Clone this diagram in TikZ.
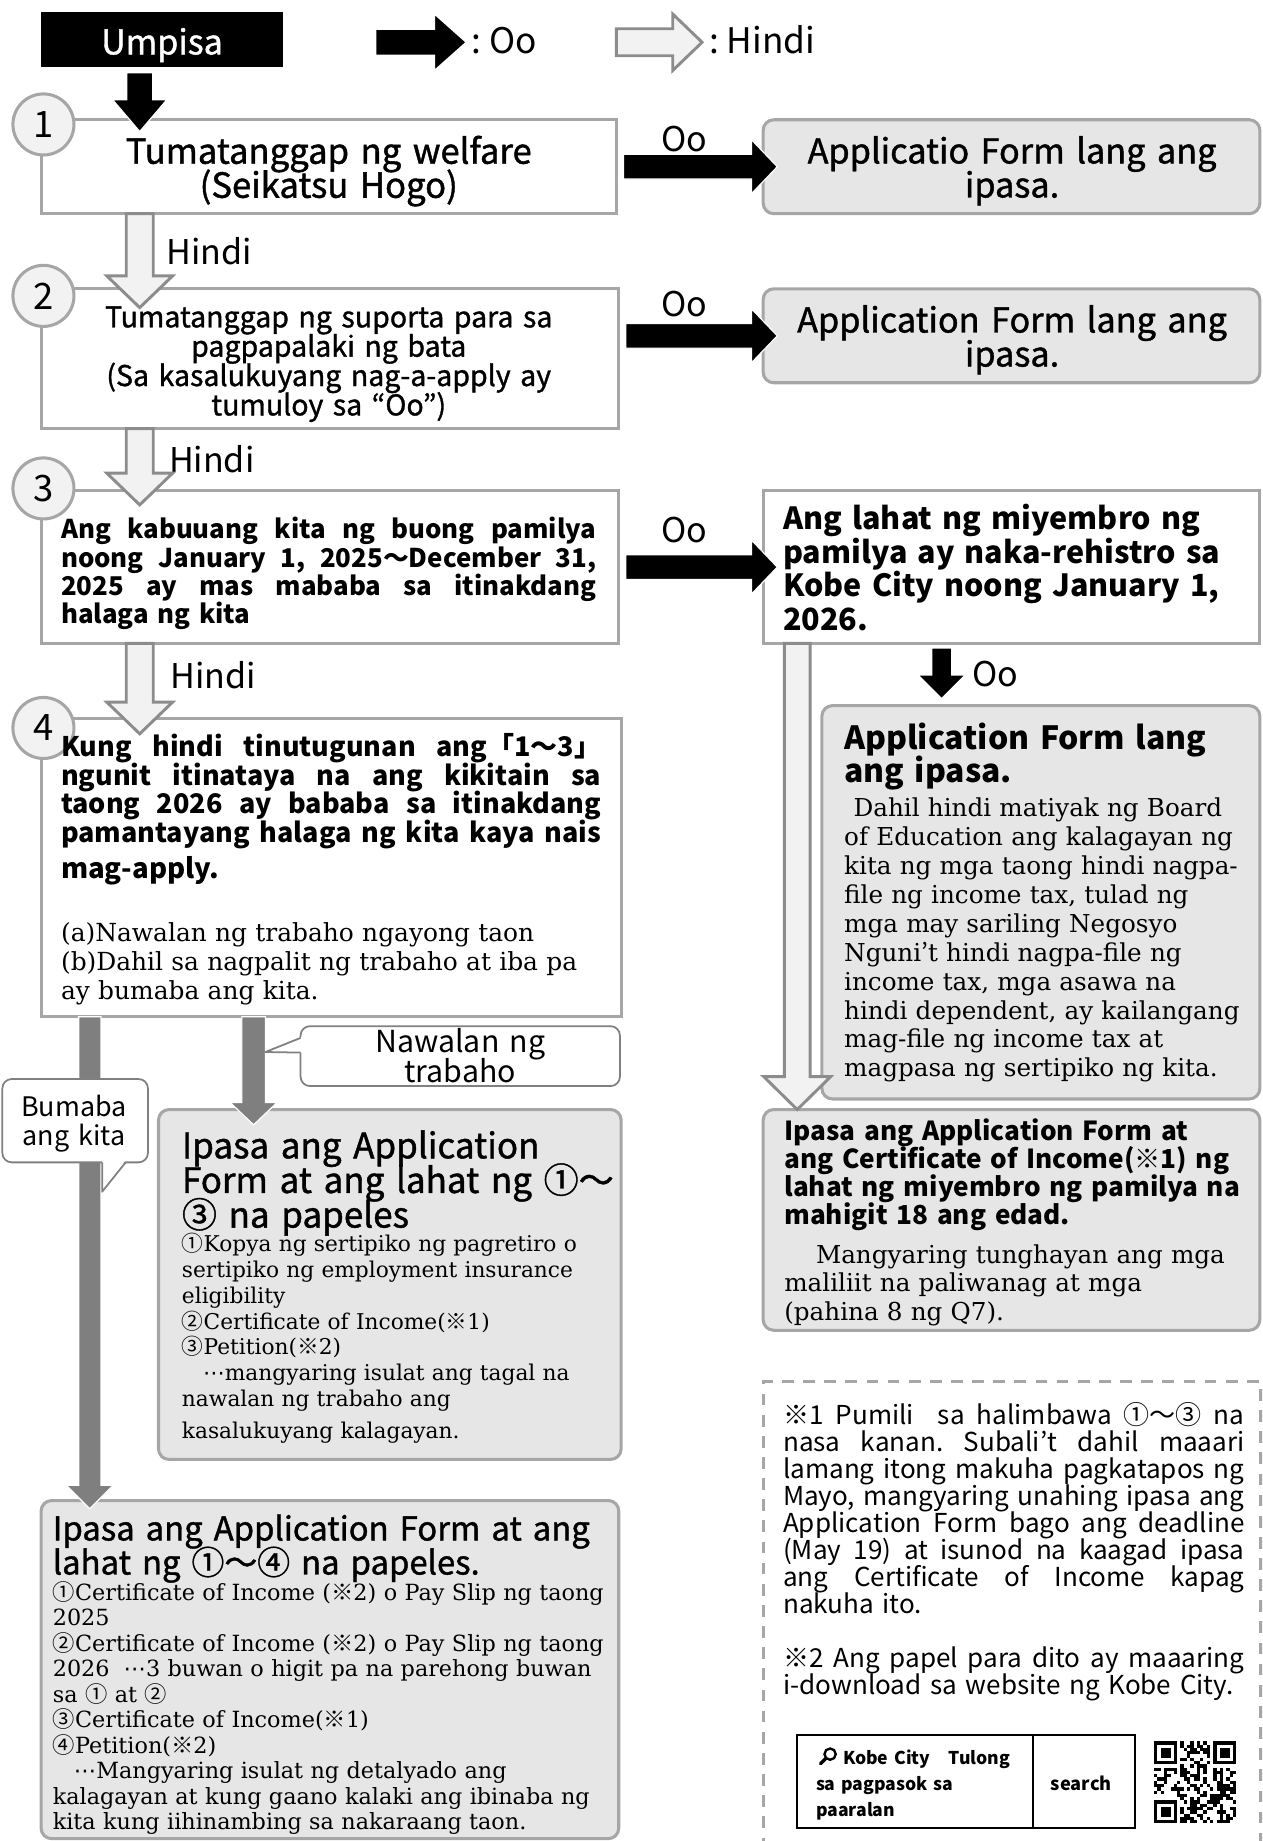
\documentclass[tikz,border=0pt]{standalone}
\usepackage{fontspec}
\setmainfont{DejaVu Serif}
\newfontfamily\nsans{Noto Sans CJK JP}
\newfontfamily\nmed{Noto Sans CJK JP}[FakeBold=1.2]
\newfontfamily\ncjk{Noto Sans CJK JP}
\newfontfamily\dvs{DejaVu Sans}
\usetikzlibrary{calc}
\definecolor{bord}{HTML}{A6A6A6}
\definecolor{boxgray}{HTML}{E6E6E6}
\definecolor{arrfill}{HTML}{F2F2F2}
\definecolor{arredge}{HTML}{8C8C8C}
\definecolor{dark}{HTML}{7F7F7F}
\definecolor{callb}{HTML}{808080}
\newcommand\fsz[2]{\fontsize{#1}{#2}\selectfont\lineskiplimit=-100pt\lineskip=0pt\parindent=0pt\frenchspacing\relax}
\newcommand\Zs{\rule{0pt}{.9\fontdimen6\font}}
\newcommand\J[2]{\makebox[#1][s]{\spaceskip=\fontdimen2\font plus 1fil\relax #2}}
\newcommand\cj[1]{{\ncjk #1}}
\newcommand\mdots{{\dvs ⋯}}
\newcommand{\vblk}[6]{\path[#1] let \p1=#2, \p2=#3 in (\x1-#4,\y1) -- (\x1-#4,\y2+#6) -- (\x1-#5,\y2+#6) -- (\x1,\y2) -- (\x1+#5,\y2+#6) -- (\x1+#4,\y2+#6) -- (\x1+#4,\y1) -- cycle;}
\newcommand{\hblk}[6]{\path[#1] let \p1=#2, \p2=#3 in (\x1,\y1+#4) -- (\x2-#6,\y1+#4) -- (\x2-#6,\y1+#5) -- (\x2,\y1) -- (\x2-#6,\y1-#5) -- (\x2-#6,\y1-#4) -- (\x1,\y1-#4) -- cycle;}
\newcommand\finder[2]{\fill (#1,#2) rectangle ++(19.6,19.6); \fill[white] (#1+2.8,#2+2.8) rectangle ++(14,14); \fill (#1+5.6,#2+5.6) rectangle ++(8.4,8.4);}
\begin{document}
\begin{tikzpicture}[x=1pt,y=-1pt,
  sq/.style={draw=bord, line width=2.6pt, fill=white, inner sep=0pt, outer sep=0pt, anchor=north west},
  rb/.style={draw=bord, line width=2.6pt, fill=boxgray, rounded corners=9pt, inner sep=0pt, outer sep=0pt, anchor=north west},
  txt/.style={inner sep=0pt, outer sep=0pt, anchor=north west, align=left},
  ctxt/.style={inner sep=0pt, outer sep=0pt, anchor=north, align=center},
  numc/.style={circle, draw=bord, fill=arrfill, line width=2.6pt, minimum size=52pt, inner sep=0pt, font=\nsans\fsz{31}{31}},
  blk/.style={fill=black, draw=white, line width=1pt},
  wht/.style={fill=arrfill, draw=arredge, line width=2.5pt},
  drk/.style={fill=dark, draw=white, line width=1pt},
  call/.style={draw=callb, line width=1.5pt, fill=white, rounded corners=8pt, inner sep=0pt, outer sep=0pt, anchor=north west},
  lbl/.style={inner sep=0pt, outer sep=0pt, font=\nsans\fsz{29}{29}},
]
\useasboundingbox (0,0) rectangle (1075,1568);
\clip (0,0) rectangle (1075,1568);

% ---------- legend / start
\node[fill=black, inner sep=0pt, outer sep=0pt, minimum width=206pt, minimum height=47pt, anchor=north west] (um) at (35,10) {};
\node[lbl, anchor=base, text=white, font=\nmed\fsz{29}{29}] (umt) at (138,46.3) {Umpisa};
\coordinate (l1a) at (320,36); \coordinate (l1b) at (397,36);
\hblk{blk}{(l1a)}{(l1b)}{11pt}{24pt}{27pt}
\node[lbl, anchor=base west, font=\nsans\fsz{30}{30}] (l1t) at (402,45.6) {: Oo};
\coordinate (l2a) at (525,36); \coordinate (l2b) at (598,36);
\hblk{wht}{(l2a)}{(l2b)}{11.5pt}{24pt}{25pt}
\node[lbl, anchor=base west, font=\nsans\fsz{30}{30}] (l2t) at (604,45.6) {: Hindi};

% ---------- boxes
\node[sq, minimum width=490pt, minimum height=80pt] (b1) at (35,102) {};
\node[rb, minimum width=423pt, minimum height=80pt] (a1) at (650,102) {};
\node[sq, minimum width=492pt, minimum height=119pt] (b2) at (35,246) {};
\node[rb, minimum width=423pt, minimum height=80pt] (a2) at (650,246) {};
\node[sq, minimum width=492pt, minimum height=130pt] (b3) at (35,418) {};
\node[sq, minimum width=423pt, minimum height=130pt] (r3) at (650,418) {};
\node[rb, minimum width=373pt, minimum height=335pt] (a3) at (700,601) {};
\node[rb, minimum width=423pt, minimum height=188pt] (fin) at (650,945) {};
\node[sq, minimum width=494pt, minimum height=254pt] (b4) at (35,612) {};
\node[rb, minimum width=394pt, minimum height=298pt] (ip3) at (135,945) {};
\node[rb, minimum width=492pt, minimum height=288pt] (ip4) at (35,1278) {};
\node[draw=bord, dash pattern=on 10pt off 8pt, line width=2.6pt, inner sep=0pt, outer sep=0pt, anchor=north west, minimum width=424pt, minimum height=420pt] (notes) at (650,1177) {};
\node[draw=black, line width=1.5pt, inner sep=0pt, outer sep=0pt, anchor=north west, minimum width=288pt, minimum height=79pt] (srch) at (679,1478) {};
\draw[line width=1.5pt] ([xshift=201pt]srch.north west) -- ([xshift=201pt]srch.south west);

% ---------- numbers
\node[numc] (n1) at (37,106) {1};
\node[numc] (n2) at (37,252) {2};
\node[numc] (n3) at (37,416) {3};
\node[numc] (n4) at (37,620) {4};

% ---------- texts
\node[ctxt, text width=480pt, font=\nmed\fsz{29.5}{29}] (t1) at (280,112.9) {\Zs Tumatanggap ng welfare\\(Seikatsu Hogo)};
\node[ctxt, text width=420pt, font=\nmed\fsz{29.2}{29}] (ta1) at (862,112.9) {\Zs Applicatio Form lang ang\\ipasa.};
\node[ctxt, text width=480pt, font=\nmed\fsz{24.3}{25}] (t2) at (280,256.9) {\Zs Tumatanggap ng suporta para sa\\pagpapalaki ng bata\\(Sa kasalukuyang nag-a-apply ay\\tumuloy sa “Oo”)};
\node[ctxt, text width=420pt, font=\nmed\fsz{29.2}{29}] (ta2) at (862,256.9) {\Zs Application Form lang ang\\ipasa.};
\node[txt, text width=456pt, font=\nsans\bfseries\fsz{22}{24}] (t3) at (52,439.2) {\Zs\J{456pt}{Ang kabuuang kita ng buong pamilya}\\\J{456pt}{noong January 1, 2025～December 31,}\\\J{456pt}{2025 ay mas mababa sa itinakdang}\\halaga ng kita};
\node[txt, text width=420pt, font=\nsans\bfseries\fsz{26}{28.5}] (tr3) at (667,427.9) {\Zs Ang lahat ng miyembro ng\\pamilya ay naka-rehistro sa\\Kobe City noong January 1,\\2026.};
\node[txt, text width=360pt, font=\nsans\bfseries\fsz{27.2}{28}] (ta3h) at (719,614.2) {\Zs Application Form lang\\ang ipasa.};
\node[txt, text width=380pt, font=\fsz{21}{24.6}] (ta3b) at (719,676.8) {\Zs\hspace*{8pt}Dahil hindi matiyak ng Board\\of Education ang kalagayan ng\\kita ng mga taong hindi nagpa-\\file ng income tax, tulad ng\\mga may sariling Negosyo\\Nguni\cj{’}t hindi nagpa-file ng\\income tax, mga asawa na\\hindi dependent, ay kailangang\\mag-file ng income tax at\\magpasa ng sertipiko ng kita.};
\node[txt, text width=410pt, font=\nsans\bfseries\fsz{22.3}{24}] (tfh) at (668,951.1) {\Zs Ipasa ang Application Form at\\ang Certificate of Income(※1) ng\\lahat ng miyembro ng pamilya na\\mahigit 18 ang edad.};
\node[txt, text width=410pt, font=\fsz{21}{24.5}] (tfb) at (668,1056.8) {\Zs\hspace*{27pt}Mangyaring tunghayan ang mga\\maliliit na paliwanag at mga\\(pahina 8 ng Q7).};
\node[txt, text width=400pt, font=\nsans\fsz{22.2}{23}] (tn) at (667,1193.1) {\Zs\J{393pt}{※1 Pumili\ \ sa halimbawa ①～③ na}\\\J{393pt}{nasa kanan. Subali’t dahil maaari}\\\J{393pt}{lamang itong makuha pagkatapos ng}\\\J{393pt}{Mayo, mangyaring unahing ipasa ang}\\\J{393pt}{Application Form bago ang deadline}\\\J{393pt}{(May 19) at isunod na kaagad ipasa}\\\J{393pt}{ang Certificate of Income kapag}\\nakuha ito.\\\mbox{}\\\J{393pt}{※2 Ang papel para dito ay maaaring}\\i-download sa website ng Kobe City.};
\node[txt, text width=470pt, font=\nsans\bfseries\fsz{23}{24.3}] (t4) at (52,623.7) {\Zs\J{460pt}{Kung hindi tinutugunan ang「1～3」}\\\J{460pt}{ngunit itinataya na ang kikitain sa}\\\J{460pt}{taong 2026 ay bababa sa itinakdang}\\\J{460pt}{pamantayang halaga ng kita kaya nais}};
\node[lbl, anchor=base west, font=\nsans\bfseries\fsz{23.5}{24}] (t4m) at (52,748.5) {mag-apply.};
\node[txt, text width=470pt, font=\fsz{21.2}{24.5}] (t4s) at (52,782.8) {\Zs(a)Nawalan ng trabaho ngayong taon\\(b)Dahil sa nagpalit ng trabaho at iba pa\\ay bumaba ang kita.};
\node[txt, text width=380pt, font=\nmed\fsz{29.8}{29.5}] (ti3h) at (155,959.7) {\Zs Ipasa ang Application\\Form at ang lahat ng ①～\\③ na papeles};
\node[txt, text width=380pt, font=\fsz{18.5}{22}] (ti3b) at (155,1049.3) {\Zs\cj{①}Kopya ng sertipiko ng pagretiro o\\sertipiko ng employment insurance\\eligibility\\\cj{②}Certificate of Income(\cj{※}1)\\\cj{③}Petition(\cj{※}2)\\\hspace*{18pt}\mdots mangyaring isulat ang tagal na\\nawalan ng trabaho ang\\[5pt]kasalukuyang kalagayan.};
\node[txt, text width=480pt, font=\nmed\fsz{28}{29}] (ti4h) at (45,1286.8) {\Zs Ipasa ang Application Form at ang\\lahat ng ①～④ na papeles.};
\node[txt, text width=490pt, font=\fsz{19}{21.7}] (ti4b) at (45,1346) {\Zs\cj{①}Certificate of Income (\cj{※}2) o Pay Slip ng taong\\2025\\\cj{②}Certificate of Income (\cj{※}2) o Pay Slip ng taong\\2026\hspace{12pt}\mdots 3 buwan o higit pa na parehong buwan\\sa \cj{①} at \cj{②}\\\cj{③}Certificate of Income(\cj{※}1)\\\cj{④}Petition(\cj{※}2)\\\hspace*{18pt}\mdots Mangyaring isulat ng detalyado ang\\kalagayan at kung gaano kalaki ang ibinaba ng\\kita kung iihinambing sa nakaraang taon.};
\node[txt, text width=190pt, font=\nsans\bfseries\fsz{15}{22}] (st) at (695,1489.3) {\Zs\hspace*{23pt}Kobe City\hspace{16pt}Tulong\\sa pagpasok sa\\paaralan};
\node[lbl, anchor=base, font=\nsans\bfseries\fsz{15.5}{16}] (ss) at (921,1525) {search};
\draw[line width=2pt] (707,1494) circle (4.8);
\draw[line width=3pt, line cap=round] (703.5,1497.5) -- (699,1502);

% ---------- labels
\node[lbl, anchor=base] (o1) at (583,129.3) {Oo};
\node[lbl, anchor=base] (o2) at (583,269.3) {Oo};
\node[lbl, anchor=base] (o3) at (583,462.3) {Oo};
\node[lbl, anchor=base west] (h1) at (142,225.3) {Hindi};
\node[lbl, anchor=base west] (h2) at (144,402.3) {Hindi};
\node[lbl, anchor=base west] (h3) at (145,586.3) {Hindi};
\node[lbl, anchor=base west] (o4) at (828,584.3) {Oo};

% ---------- arrows
\vblk{blk}{([xshift=84pt,yshift=-5pt]um.south west)}{([xshift=84pt,yshift=-10pt]b1.north west)}{11pt}{23pt}{27pt}
\hblk{blk}{([xshift=6pt]b1.east)}{([xshift=12pt]a1.west)}{10.5pt}{23pt}{22pt}
\hblk{blk}{($(b2.east|-a2.west)+(6,0)$)}{([xshift=12pt]a2.west)}{10.5pt}{23pt}{22pt}
\hblk{blk}{([xshift=6pt]b3.east)}{([xshift=12pt]r3.west)}{10.5pt}{23pt}{22pt}
\vblk{wht}{([xshift=84pt]b1.south west)}{([xshift=84pt,yshift=-16pt]b2.north west)}{11.5pt}{28pt}{27pt}
\vblk{wht}{([xshift=84pt]b2.south west)}{([xshift=84pt,yshift=-12pt]b3.north west)}{11.5pt}{28pt}{27pt}
\vblk{wht}{([xshift=84pt]b3.south west)}{([xshift=84pt,yshift=-13pt]b4.north west)}{11.5pt}{28pt}{27pt}
\vblk{wht}{([xshift=29pt]r3.south west)}{([xshift=29pt]fin.north west)}{11pt}{28.5pt}{28pt}
\vblk{blk}{([xshift=152pt,yshift=-4pt]r3.south west)}{([xshift=102pt,yshift=6pt]a3.north west)}{8.5pt}{20pt}{20pt}
\vblk{drk}{([xshift=41.5pt]b4.south west)}{([xshift=41.5pt,yshift=-7pt]ip4.north west)}{9.5pt}{20pt}{20pt}
\vblk{drk}{([xshift=181pt]b4.south west)}{([xshift=81pt,yshift=-13pt]ip3.north west)}{10pt}{20pt}{19pt}

% ---------- callouts
\node[call, minimum width=272pt, minimum height=51pt] (cn) at (256,874) {};
\coordinate (cnp) at (226,896);
\fill[white] ([yshift=-9pt,xshift=2pt]cn.north west) -- (cnp) -- ([yshift=-22.5pt,xshift=2pt]cn.north west) -- cycle;
\draw[callb, line width=1.5pt, line join=round] ([yshift=-10pt]cn.north west) -- (cnp) -- ([yshift=-22.5pt]cn.north west);
\node[ctxt, text width=260pt, font=\nsans\fsz{25.8}{26}] (cnt) at (392,873) {\Zs Nawalan ng\\trabaho};
\node[call, minimum width=124pt, minimum height=71pt] (cb) at (2,919) {};
\coordinate (cbp) at (87,1015);
\fill[white] ([xshift=85pt,yshift=2pt]cb.south west) -- (cbp) -- ([xshift=105pt,yshift=2pt]cb.south west) -- cycle;
\draw[callb, line width=1.5pt, line join=round] ([xshift=85pt]cb.south west) -- (cbp) -- ([xshift=105pt]cb.south west);
\node[ctxt, text width=120pt, font=\nsans\fsz{22.9}{24}] (cbt) at (63,930.7) {\Zs Bumaba\\ang kita};

% ---------- QR code
\pgfmathsetseed{4242}
\foreach \i in {0,...,24}{\foreach \j in {0,...,24}{\pgfmathrandominteger{\r}{0}{1}\ifnum\r=1 \fill (983+\i*2.8,1483+\j*2.8) rectangle ++(2.8,2.8);\fi}}
\fill[white] (983,1483) rectangle ++(22.4,22.4);
\fill[white] (1030.6,1483) rectangle ++(22.4,22.4);
\fill[white] (983,1530.6) rectangle ++(22.4,22.4);
\finder{983}{1483}
\finder{1033.4}{1483}
\finder{983}{1533.4}
\end{tikzpicture}
\end{document}
